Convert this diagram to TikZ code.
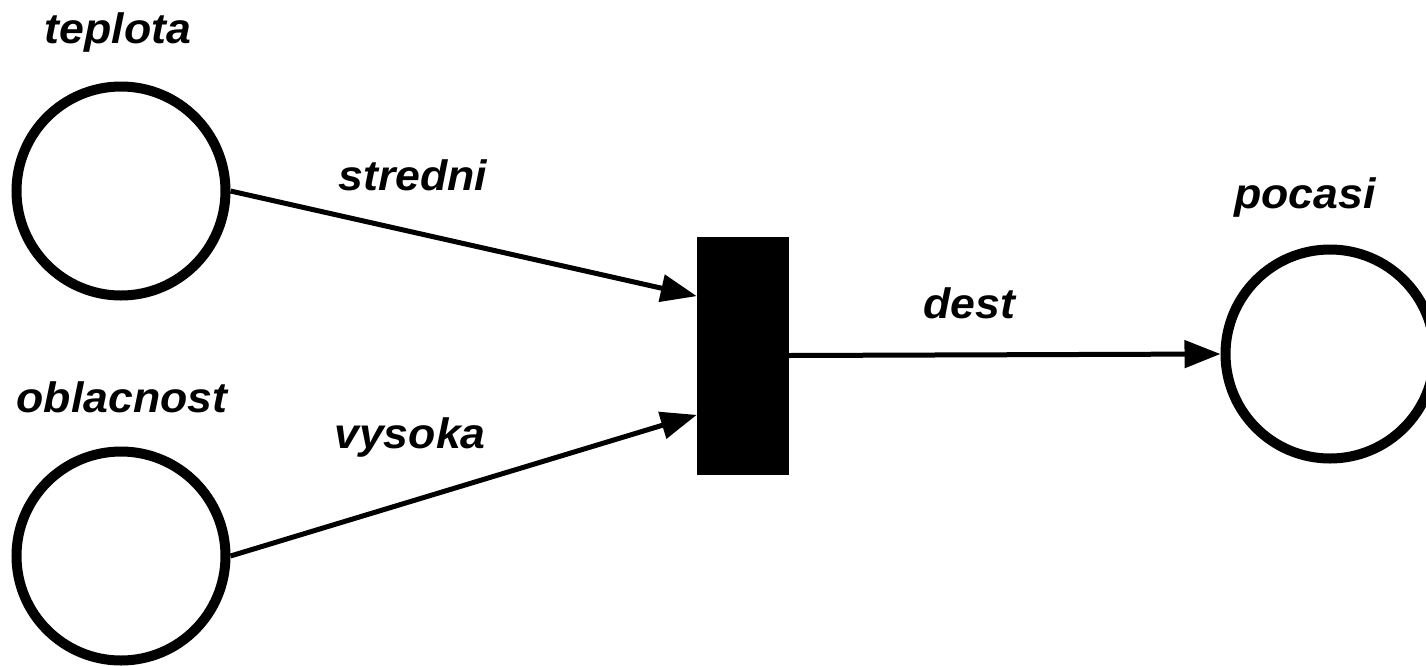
\documentclass[tikz,border=0pt]{standalone}
\usepackage{fontspec}
\setmainfont{Liberation Sans}[FakeStretch=1.05]
\usetikzlibrary{arrows.meta,calc}
\begin{document}
\begin{tikzpicture}[x=1pt,y=-1pt,
  place/.style={circle,draw,line width=10pt,minimum size=209pt,inner sep=0pt},
  transition/.style={rectangle,fill=black,draw=black,line width=0.5pt,
    minimum width=91pt,minimum height=237pt,inner sep=0pt},
  arc/.style={line width=5pt,-{Triangle[length=36pt,width=27pt]}},
  lab/.style={font=\fontsize{42.5}{50}\selectfont\bfseries\itshape,inner sep=0pt,anchor=base}]
\useasboundingbox (0,0) rectangle (1426,665);

% places and the transition
\node[place] (teplota) at (121,191) {};
\node[place] (oblacnost) at (121,556) {};
\node[place] (pocasi) at (1330,354) {};
\node[transition] (t) at (742.5,355.5) {};

% input points on the left side of the transition
\coordinate (in1) at ($(t.north west)!0.25!(t.south west)$);
\coordinate (in2) at ($(t.north west)!0.75!(t.south west)$);

% arcs
\draw[arc] (teplota.east) -- (in1);
\draw[arc] (oblacnost.east) -- (in2);
\draw[arc] (t.east) -- (pocasi.west);

% labels
\node[lab] (lteplota) at (118,43) {teplota};
\node[lab] (loblacnost) at (122,412) {oblacnost};
\node[lab] (lpocasi) at (1305,208) {pocasi};
\node[lab] (lstredni) at (413,190) {stredni};
\node[lab] (lvysoka) at (410,448) {vysoka};
\node[lab] (ldest) at (969,318) {dest};
\end{tikzpicture}
\end{document}
